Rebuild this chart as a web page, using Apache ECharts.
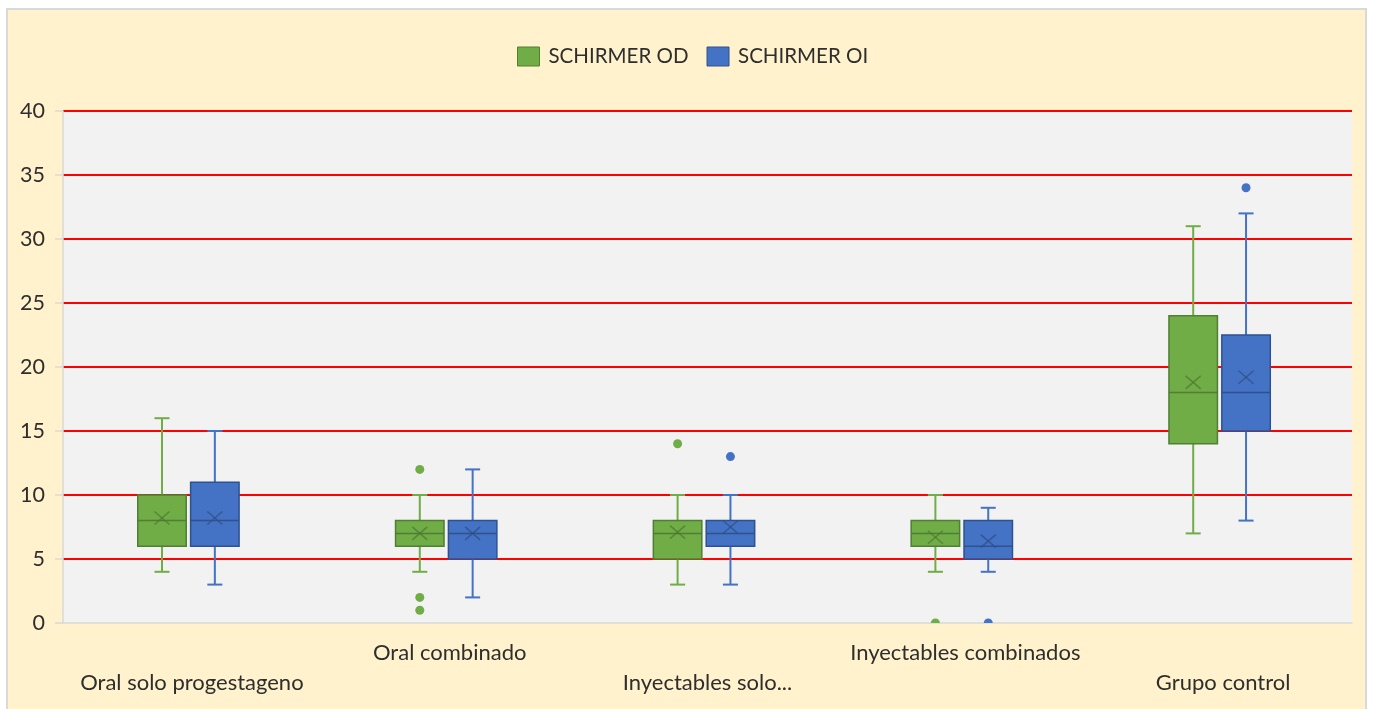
<!DOCTYPE html>
<html>
<head>
<meta charset="utf-8">
<script src="https://cdn.jsdelivr.net/npm/echarts@6/dist/echarts.min.js"></script>
<style>
  html, body { margin: 0; padding: 0; background: #ffffff; }
  #panel {
    position: absolute; left: 6px; top: 8px; width: 1361px; height: 710px;
    background: #FFF2CC; border: 2px solid #D9D9D9; box-sizing: border-box;
  }
  #chart { position: absolute; left: 0; top: 0; width: 1377px; height: 709px; }
</style>
</head>
<body>
<div id="panel"></div>
<div id="chart"></div>
<script>
// Schirmer test results by contraceptive group: [min, Q1, median, Q3, max]
const categories = ['Oral solo progestageno', 'Oral combinado', 'Inyectables solo...', 'Inyectables combinados', 'Grupo control'];
const seriesNames = ['SCHIRMER OD', 'SCHIRMER OI'];

const odBox = [
  [4, 6, 8, 10, 16],
  [4, 6, 7, 8, 10],
  [3, 5, 7, 8, 10],
  [4, 6, 7, 8, 10],
  [7, 14, 18, 24, 31]
];
const oiBox = [
  [3, 6, 8, 11, 15],
  [2, 5, 7, 8, 12],
  [3, 6, 7, 8, 10],
  [4, 5, 6, 8, 9],
  [8, 15, 18, 22.5, 32]
];
const odMean = [8.2, 7.0, 7.1, 6.7, 18.8];
const oiMean = [8.2, 7.0, 7.5, 6.4, 19.2];

// outliers as [category index, value]
const odOutliers = [[1, 12], [1, 2], [1, 1], [2, 14], [3, 0]];
const oiOutliers = [[2, 13], [3, 0], [4, 34]];

const yTicks = { min: 0, max: 40, interval: 5 };

const GREEN = { fill: '#70AD47', stroke: '#507E32', whisker: '#70AD47', mark: '#4E7A30' };
const BLUE = { fill: '#4472C4', stroke: '#2F528F', whisker: '#4472C4', mark: '#2F4F86' };

const BOX_FRAC = 0.188;

function boxData(boxes, means) {
  return categories.map((c, i) => [i].concat(boxes[i], [means[i]]));
}

function boxRenderer(shift, pal) {
  return function (params, api) {
    const idx = api.value(0);
    const band = api.size([1, 0])[0];
    const cx = api.coord([idx, 0])[0] + shift * band;
    const w = BOX_FRAC * band;
    const y = [1, 2, 3, 4, 5].map(d => api.coord([idx, api.value(d)])[1]);
    const ym = api.coord([idx, api.value(6)])[1];
    const cap = w * 0.31;
    const whiskerStyle = { stroke: pal.whisker, lineWidth: 2 };
    const xs = 7.5, ys = 6.5;
    return {
      type: 'group',
      children: [
        { type: 'line', shape: { x1: cx, y1: y[4], x2: cx, y2: y[3] }, style: whiskerStyle },
        { type: 'line', shape: { x1: cx, y1: y[1], x2: cx, y2: y[0] }, style: whiskerStyle },
        { type: 'line', shape: { x1: cx - cap / 2, y1: y[4], x2: cx + cap / 2, y2: y[4] }, style: whiskerStyle },
        { type: 'line', shape: { x1: cx - cap / 2, y1: y[0], x2: cx + cap / 2, y2: y[0] }, style: whiskerStyle },
        { type: 'rect', shape: { x: cx - w / 2, y: y[3], width: w, height: y[1] - y[3] },
          style: { fill: pal.fill, stroke: pal.stroke, lineWidth: 1.5 } },
        { type: 'line', shape: { x1: cx - w / 2, y1: y[2], x2: cx + w / 2, y2: y[2] },
          style: { stroke: pal.stroke, lineWidth: 1.5 } },
        { type: 'line', shape: { x1: cx - xs, y1: ym - ys, x2: cx + xs, y2: ym + ys },
          style: { stroke: pal.mark, lineWidth: 1.5, opacity: 0.75 } },
        { type: 'line', shape: { x1: cx - xs, y1: ym + ys, x2: cx + xs, y2: ym - ys },
          style: { stroke: pal.mark, lineWidth: 1.5, opacity: 0.75 } }
      ]
    };
  };
}

function outlierRenderer(shift, pal) {
  return function (params, api) {
    const idx = api.value(0);
    const band = api.size([1, 0])[0];
    const p = api.coord([idx, api.value(1)]);
    return {
      type: 'circle',
      shape: { cx: p[0] + shift * band, cy: p[1], r: 4.5 },
      style: { fill: pal.fill }
    };
  };
}

const FONT = 'Lato';
const TEXT = '#2E2E2E';
const chart = echarts.init(document.getElementById('chart'), null, { renderer: 'canvas' });

chart.setOption({
  backgroundColor: 'transparent',
  animation: false,
  textStyle: { fontFamily: FONT },
  legend: {
    top: 41,
    left: 512,
    itemWidth: 22,
    itemHeight: 19,
    itemGap: 18,
    textStyle: { fontFamily: FONT, fontSize: 20.5, color: TEXT, padding: [0, 0, 0, 4] },
    data: [
      { name: seriesNames[0], icon: 'rect', itemStyle: { color: GREEN.fill, borderColor: GREEN.stroke, borderWidth: 1 } },
      { name: seriesNames[1], icon: 'rect', itemStyle: { color: BLUE.fill, borderColor: BLUE.stroke, borderWidth: 1 } }
    ]
  },
  grid: {
    left: 63, right: 25, top: 111, bottom: 86,
    show: true, backgroundColor: '#F2F2F2', borderWidth: 0,
    outerBoundsMode: 'none'
  },
  xAxis: {
    type: 'category',
    data: categories,
    axisLine: { show: true, lineStyle: { color: '#D9D9D9', width: 1.5 } },
    axisTick: { show: false },
    splitLine: { show: false },
    axisLabel: {
      interval: 0,
      hideOverlap: false,
      margin: 15,
      fontFamily: FONT,
      fontSize: 22,
      lineHeight: 30,
      color: TEXT,
      formatter: (v, i) => (i % 2 === 0 ? '\n' + v : v)
    }
  },
  yAxis: {
    type: 'value',
    min: yTicks.min,
    max: yTicks.max,
    interval: yTicks.interval,
    axisLine: { show: true, lineStyle: { color: '#D9D9D9', width: 1.5 } },
    axisTick: { show: true, length: 8, lineStyle: { color: '#D9D9D9', width: 1.5 } },
    splitLine: { show: true, showMinLine: false, lineStyle: { color: '#FF0000', width: 2 } },
    axisLabel: { margin: 18, fontFamily: FONT, fontSize: 21.5, color: TEXT }
  },
  series: [
    {
      name: seriesNames[0], type: 'custom', itemStyle: { color: GREEN.fill },
      renderItem: boxRenderer(-0.116, GREEN),
      encode: { x: 0, y: [1, 2, 3, 4, 5, 6] },
      data: boxData(odBox, odMean), z: 3
    },
    {
      name: seriesNames[1], type: 'custom', itemStyle: { color: BLUE.fill },
      renderItem: boxRenderer(0.089, BLUE),
      encode: { x: 0, y: [1, 2, 3, 4, 5, 6] },
      data: boxData(oiBox, oiMean), z: 3
    },
    {
      name: seriesNames[0], type: 'custom', clip: true, itemStyle: { color: GREEN.fill },
      renderItem: outlierRenderer(-0.116, GREEN),
      encode: { x: 0, y: 1 },
      data: odOutliers, z: 4
    },
    {
      name: seriesNames[1], type: 'custom', clip: true, itemStyle: { color: BLUE.fill },
      renderItem: outlierRenderer(0.089, BLUE),
      encode: { x: 0, y: 1 },
      data: oiOutliers, z: 4
    }
  ]
});
</script>
</body>
</html>
